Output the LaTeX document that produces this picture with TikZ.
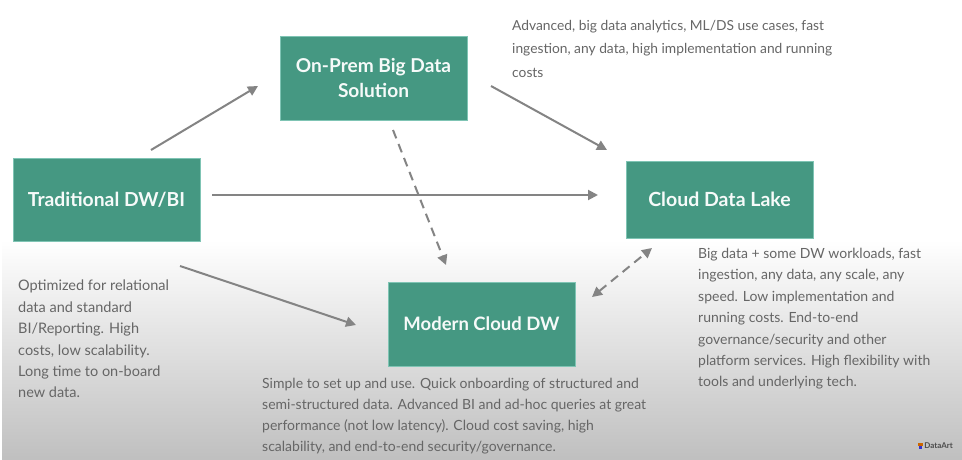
\documentclass[tikz,border=0pt]{standalone}
\usepackage{fontspec}
\setmainfont{Lato}
\usetikzlibrary{arrows.meta,shadings}
\definecolor{boxteal}{HTML}{459882}
\definecolor{boxedge}{HTML}{7FC4B4}
\definecolor{txt}{HTML}{666666}
\definecolor{arr}{HTML}{848484}
\tikzset{x=1pt,y=-1pt,
 box/.style={fill=boxteal,draw=boxedge,line width=0.5pt,text=white!95!boxteal,font=\bfseries\fontsize{18.5}{25}\selectfont,align=center,anchor=center,inner sep=0pt},
 body/.style={text=txt,font=\fontsize{14}{21.4}\selectfont,align=left,anchor=north west,inner sep=0pt},
 link/.style={draw=arr,line width=2pt,-{Triangle[length=10pt,width=10pt]}},
 dlink/.style={link,dash pattern=on 9pt off 6pt}}
\begin{document}
\begin{tikzpicture}
\useasboundingbox (0,0) rectangle (962,460);
\fill[white] (0,0) rectangle (962,460);
\shade[top color=white,bottom color=black!25] (2,240) rectangle (962,460);
\node[box,minimum width=187,minimum height=84,font=\bfseries\fontsize{19.1}{25}\selectfont] (onprem) at (373.5,78) {On-Prem Big Data\\Solution};
\node[box,minimum width=187,minimum height=83,font=\bfseries\fontsize{19.3}{26}\selectfont] (trad) at (106.5,199.5) {Traditional DW/BI};
\node[box,minimum width=187,minimum height=77,font=\bfseries\fontsize{19.5}{26}\selectfont] (lake) at (719.5,199.5) {Cloud Data Lake};
\node[box,minimum width=187,minimum height=84,text height=13pt] (cdw) at (481.5,324) {Modern Cloud DW};
\coordinate (a1s) at (151,150); \coordinate (a1e) at (258,86);
\coordinate (a2s) at (491,86); \coordinate (a2e) at (607,150);
\coordinate (a3s) at (212,195); \coordinate (a3e) at (598,195);
\coordinate (a4s) at (180,266); \coordinate (a4e) at (356,325);
\coordinate (a5s) at (393,130); \coordinate (a5e) at (446,265);
\coordinate (a6s) at (592,297); \coordinate (a6e) at (652,248);
\draw[link] (a1s) -- (a1e);
\draw[link] (a2s) -- (a2e);
\draw[link] (a3s) -- (a3e);
\draw[link] (a4s) -- (a4e);
\draw[dlink] (a5s) -- (a5e);
\draw[dlink,{Triangle[length=10pt,width=10pt]}-{Triangle[length=10pt,width=10pt]}] (a6s) -- (a6e);
\node[body,font=\fontsize{13.8}{23.5}\selectfont] (t1) at (512,20) {Advanced, big data analytics, ML/DS use cases, fast\\ingestion, any data, high implementation and running\\costs};
\node[body,font=\fontsize{14.5}{21.4}\selectfont] (t2) at (18,280) {Optimized for relational\\data and standard\\BI/Reporting. High\\costs, low scalability.\\Long time to on-board\\new data.};
\node[body] (t3) at (698,248) {Big data + some DW workloads, fast\\ingestion, any data, any scale, any\\speed. Low implementation and\\running costs. End-to-end\\governance/security and other\\platform services. High flexibility with\\tools and underlying tech.};
\node[body,font=\fontsize{14}{20.9}\selectfont] (t4) at (262,378) {Simple to set up and use. Quick onboarding of structured and\\semi-structured data. Advanced BI and ad-hoc queries at great\\performance (not low latency). Cloud cost saving, high\\scalability, and end-to-end security/governance.};
\node[text=black!70,font=\bfseries\fontsize{8}{9}\selectfont,anchor=east,inner sep=0pt] (logo) at (953,446) {DataArt};
\fill[orange!80!black] (918,443) rectangle (923,446);
\fill[blue!60!gray] (919,446) rectangle (922,449);
\end{tikzpicture}
\end{document}
